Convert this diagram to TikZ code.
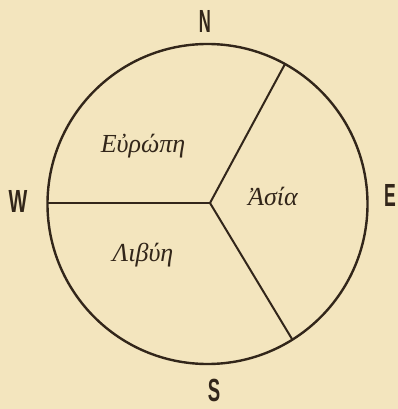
\documentclass[tikz,border=0pt]{standalone}
\usepackage{fontspec}
\setmainfont{Liberation Serif}
\newfontfamily\capsfont{Liberation Sans}
\definecolor{paper}{RGB}{243,229,190}
\definecolor{ink}{RGB}{50,38,26}
\begin{document}
\begin{tikzpicture}[x=1pt,y=-1pt,
  rim/.style={draw=ink,line width=2.4pt},
  border/.style={draw=ink,line width=2pt},
  compass/.style={text=ink,font=\capsfont\bfseries\fontsize{32}{32}\selectfont,inner sep=0pt},
  region/.style={text=ink,font=\itshape\fontsize{26}{26}\selectfont,inner sep=0pt}]
\fill[paper] (0,0) rectangle (398,409);
\useasboundingbox (0,0) rectangle (398,409);
\coordinate (c) at (207.5,204);
\draw[rim] (c) circle[radius=160];
\coordinate (j) at (210,203);
\coordinate (w) at (47.5,203);
\coordinate (ne) at (285,64);
\coordinate (se) at (292,339);
\draw[border] (j) -- (w);
\draw[border] (j) -- (ne);
\draw[border] (j) -- (se);
\node[compass] (N) at (205,21) {\scalebox{0.52}[1]{N}};
\node[compass] (W) at (18,201) {\scalebox{0.62}[1]{W}};
\node[compass] (E) at (390,195) {\scalebox{0.55}[1]{E}};
\node[compass] (S) at (214,390) {\scalebox{0.58}[1]{S}};
\node[region] (eu) at (143,146) {Εὐρώπη};
\node[region] (as) at (273,196) {Ἀσία};
\node[region] (li) at (143,255) {Λιβύη};
\end{tikzpicture}
\end{document}
